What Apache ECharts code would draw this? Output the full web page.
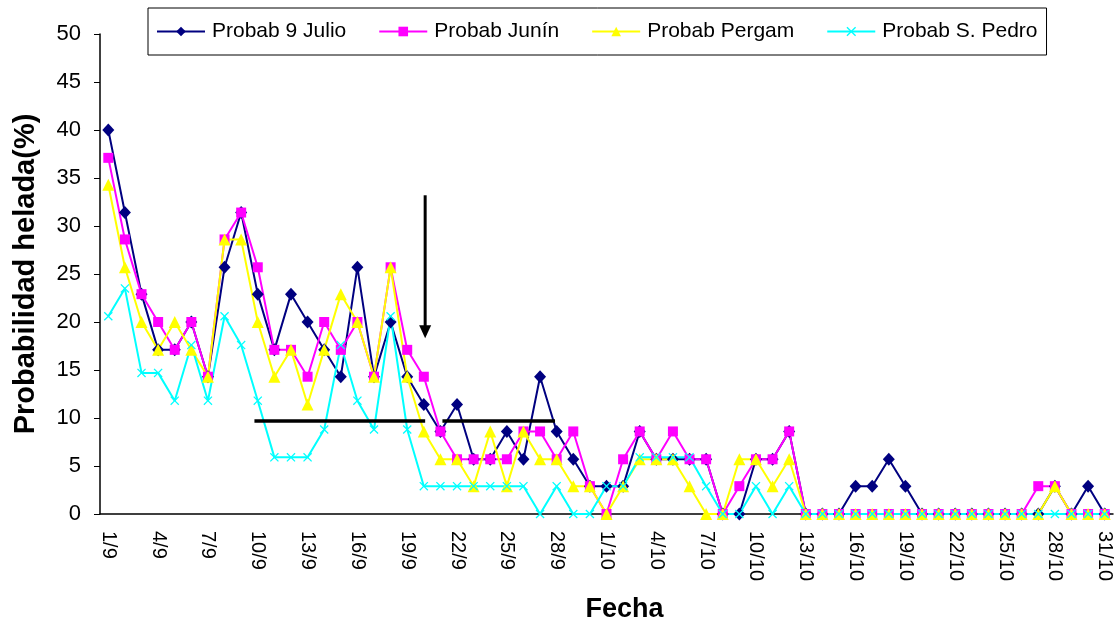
<!DOCTYPE html>
<html>
<head>
<meta charset="utf-8">
<script src="https://cdn.jsdelivr.net/npm/echarts@6/dist/echarts.min.js"></script>
<style>
  html, body { margin: 0; padding: 0; background: #fff; }
  #chart { width: 1117px; height: 623px; }
</style>
</head>
<body>
<div id="chart"></div>
<script>
// Days from 1 September to 31 October
const fechas = [
  '1/9','2/9','3/9','4/9','5/9','6/9','7/9','8/9','9/9','10/9',
  '11/9','12/9','13/9','14/9','15/9','16/9','17/9','18/9','19/9','20/9',
  '21/9','22/9','23/9','24/9','25/9','26/9','27/9','28/9','29/9','30/9',
  '1/10','2/10','3/10','4/10','5/10','6/10','7/10','8/10','9/10','10/10',
  '11/10','12/10','13/10','14/10','15/10','16/10','17/10','18/10','19/10','20/10',
  '21/10','22/10','23/10','24/10','25/10','26/10','27/10','28/10','29/10','30/10','31/10'
];

// Frost probability (%) per station
const julio = [
  40, 31.4, 22.9, 17.1, 17.1, 20, 14.3, 25.7, 31.4, 22.9,
  17.1, 22.9, 20, 17.1, 14.3, 25.7, 14.3, 20, 14.3, 11.4,
  8.6, 11.4, 5.7, 5.7, 8.6, 5.7, 14.3, 8.6, 5.7, 2.9,
  2.9, 2.9, 8.6, 5.7, 5.7, 5.7, 5.7, 0, 0, 5.7,
  5.7, 8.6, 0, 0, 0, 2.9, 2.9, 5.7, 2.9, 0,
  0, 0, 0, 0, 0, 0, 0, 2.9, 0, 2.9, 0
];
const junin = [
  37.1, 28.6, 22.9, 20, 17.1, 20, 14.3, 28.6, 31.4, 25.7,
  17.1, 17.1, 14.3, 20, 17.1, 20, 14.3, 25.7, 17.1, 14.3,
  8.6, 5.7, 5.7, 5.7, 5.7, 8.6, 8.6, 5.7, 8.6, 2.9,
  0, 5.7, 8.6, 5.7, 8.6, 5.7, 5.7, 0, 2.9, 5.7,
  5.7, 8.6, 0, 0, 0, 0, 0, 0, 0, 0,
  0, 0, 0, 0, 0, 0, 2.9, 2.9, 0, 0, 0
];
const pergam = [
  34.3, 25.7, 20, 17.1, 20, 17.1, 14.3, 28.6, 28.6, 20,
  14.3, 17.1, 11.4, 17.1, 22.9, 20, 14.3, 25.7, 14.3, 8.6,
  5.7, 5.7, 2.9, 8.6, 2.9, 8.6, 5.7, 5.7, 2.9, 2.9,
  0, 2.9, 5.7, 5.7, 5.7, 2.9, 0, 0, 5.7, 5.7,
  2.9, 5.7, 0, 0, 0, 0, 0, 0, 0, 0,
  0, 0, 0, 0, 0, 0, 0, 2.9, 0, 0, 0
];
const sanPedro = [
  20.6, 23.5, 14.7, 14.7, 11.8, 17.6, 11.8, 20.6, 17.6, 11.8,
  5.9, 5.9, 5.9, 8.8, 17.6, 11.8, 8.8, 20.6, 8.8, 2.9,
  2.9, 2.9, 2.9, 2.9, 2.9, 2.9, 0, 2.9, 0, 0,
  2.9, 2.9, 5.9, 5.9, 5.9, 5.9, 2.9, 0, 0, 2.9,
  0, 2.9, 0, 0, 0, 0, 0, 0, 0, 0,
  0, 0, 0, 0, 0, 0, 0, 0, 0, 0, 0
];

const nombres = ['Probab 9 Julio', 'Probab Junín', 'Probab Pergam', 'Probab S. Pedro'];

// Annotations, in (day index, %) units
const tramo1 = [[8.8, 9.7], [19.08, 9.7]];
const tramo2 = [[20.12, 9.7], [26.9, 9.7]];
const flecha = [[19.08, 33.2], [19.08, 18.3]];

const FONT = '"Liberation Sans", Arial, sans-serif';
const crossPath = 'path://M0,1L1,0L5,4L9,0L10,1L6,5L10,9L9,10L5,6L1,10L0,9L4,5Z';

function serie(name, data, color, symbol, size) {
  return {
    name, type: 'line', data,
    symbol, symbolSize: size,
    showAllSymbol: true,
    lineStyle: { color, width: 2 },
    itemStyle: { color },
    emphasis: { disabled: true }
  };
}

const chart = echarts.init(document.getElementById('chart'));
chart.setOption({
  animation: false,
  textStyle: { fontFamily: FONT },
  grid: { left: 100, right: 4, top: 34, bottom: 109, containLabel: false, outerBoundsMode: 'none' },
  legend: {
    data: nombres,
    left: 148, top: 8,
    borderColor: '#000', borderWidth: 1,
    padding: [13, 9, 13, 8],
    itemGap: 32, itemWidth: 48, itemHeight: 12,
    textStyle: { fontSize: 21, color: '#000', fontFamily: FONT, padding: [0, 0, 0, 2] }
  },
  xAxis: {
    type: 'category', data: fechas, boundaryGap: true,
    name: 'Fecha', nameLocation: 'middle', nameGap: 82,
    nameTextStyle: { fontSize: 27, fontWeight: 'bold', color: '#000', fontFamily: FONT, padding: [0, 0, 0, 36] },
    axisLine: { lineStyle: { color: '#000', width: 1.5 } },
    axisTick: { interval: 0, length: 6, lineStyle: { color: '#000' } },
    axisLabel: { interval: 2, rotate: -90, fontSize: 20, color: '#000', margin: 17, fontFamily: FONT },
    splitLine: { show: false }
  },
  yAxis: {
    type: 'value', min: 0, max: 50, interval: 5,
    name: 'Probabilidad helada(%)', nameLocation: 'middle', nameGap: 60,
    nameTextStyle: { fontSize: 29, fontWeight: 'bold', color: '#000', fontFamily: FONT },
    axisLine: { show: true, lineStyle: { color: '#000', width: 1.5 } },
    axisTick: { show: true, length: 6, lineStyle: { color: '#000' } },
    axisLabel: { fontSize: 22, color: '#000', margin: 19, fontFamily: FONT },
    splitLine: { show: false }
  },
  series: [
    serie(nombres[0], julio, '#000080', 'diamond', [12, 13]),
    serie(nombres[1], junin, '#FF00FF', 'rect', 10),
    serie(nombres[2], pergam, '#FFFF00', 'triangle', [12, 12]),
    serie(nombres[3], sanPedro, '#00FFFF', crossPath, 9)
  ]
});

// Map fractional day index + value to pixels through the axes
function aPixel(p) {
  const a = chart.convertToPixel({ gridIndex: 0 }, [0, p[1]]);
  const b = chart.convertToPixel({ gridIndex: 0 }, [1, p[1]]);
  return [a[0] + (b[0] - a[0]) * p[0], a[1]];
}

function segmento(t) {
  const p = aPixel(t[0]), q = aPixel(t[1]);
  return { type: 'line', shape: { x1: p[0], y1: p[1], x2: q[0], y2: q[1] },
           style: { stroke: '#000', lineWidth: 3.5 }, z: 100 };
}

const inicioFlecha = aPixel(flecha[0]), punta = aPixel(flecha[1]);
chart.setOption({
  graphic: [
    segmento(tramo1),
    segmento(tramo2),
    { type: 'line', shape: { x1: inicioFlecha[0], y1: inicioFlecha[1], x2: punta[0], y2: punta[1] - 10 },
      style: { stroke: '#000', lineWidth: 3 }, z: 100 },
    { type: 'polygon', shape: { points: [[punta[0] - 6, punta[1] - 13], [punta[0] + 6, punta[1] - 13], [punta[0], punta[1]]] },
      style: { fill: '#000' }, z: 100 }
  ]
});
</script>
</body>
</html>
